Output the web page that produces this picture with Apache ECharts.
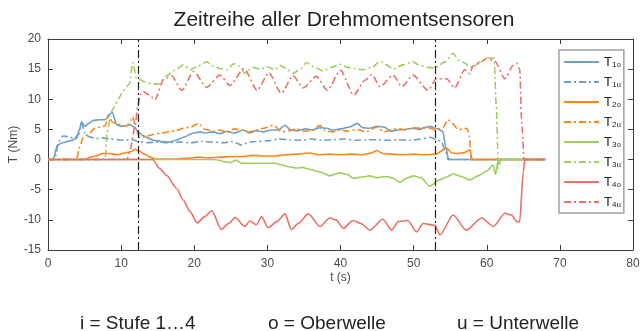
<!DOCTYPE html>
<html lang="de">
<head>
    <meta charset="utf-8">
    <title>Zeitreihe aller Drehmomentsensoren</title>
    <script src="https://cdn.jsdelivr.net/npm/echarts@6/dist/echarts.min.js"></script>
    <style type="text/css">
        html, body {
            width: 100%;
            height: 100%;
            margin: 0px;
            padding: 0px;
            background: #fff;
        }

        #main {
            width: 640px;
            height: 331px;
        }
    </style>
</head>
<body>
<div id="main"></div>
<script>
    var T1o = [[0,0],[0.7,0],[1.3,2.4],[2,2.8],[3,3.1],[3.9,3.5],[4.3,5],[4.6,6.3],[5,5.5],[5.6,6.0],[6.2,6.5],[7,6.6],[7.8,6.6],[8.4,7.5],[8.8,7.8],[9.4,5.8],[10,5.5],[10.6,5.6],[11.2,5.8],[11.8,5.4],[12.4,4.5],[13,4.0],[13.6,3.6],[14.4,3.2],[15.5,3.0],[16.5,2.9],[17.5,3.2],[18.5,3.7],[19.9,4.4],[20.8,4.6],[21.5,4.4],[22.5,4.6],[23.5,4.3],[24.5,4.7],[25.5,4.4],[26.7,4.9],[27.6,4.4],[28.5,4.8],[29.4,4.6],[30.5,4.9],[31.5,4.9],[32.4,5.7],[33.2,4.9],[34.2,4.8],[35.2,5.1],[36.2,4.9],[37.2,5.3],[38.1,5.2],[39,4.9],[40,5.1],[41.2,5.4],[42.3,6.0],[43,5.3],[44,5.2],[45,5.5],[46,5.4],[46.8,4.7],[47.8,4.9],[48.8,5.0],[49.8,5.2],[50.8,5.0],[51.5,5.3],[52.2,5.5],[53,5.2],[54,4.7],[54.4,2.0],[54.8,0],[68,0]];
    var T1u = [[0,0],[0.9,0],[1.5,3.0],[2,3.9],[2.8,3.8],[3.6,3.5],[4.2,4.2],[4.6,6.0],[5,4.5],[5.6,3.8],[6.5,3.5],[7.5,3.6],[8.5,3.4],[9.5,3.3],[10.5,3.2],[11.5,3.3],[12.3,3.0],[13.5,2.8],[15,2.9],[16.5,2.8],[18,2.9],[19.5,2.8],[21,3.0],[22.5,2.9],[24,2.8],[25.2,3.0],[26.5,2.4],[27.5,2.9],[28.5,3.0],[30,3.1],[31.5,3.4],[33,3.3],[34.5,3.2],[36,3.4],[37.5,3.2],[39,3.3],[40.5,3.4],[42,3.2],[43.5,3.3],[45,3.3],[46.5,3.2],[48,3.3],[49.5,3.2],[51,3.4],[52.2,3.7],[53.2,3.3],[53.8,3.0],[54.3,1.5],[54.7,0],[68,0]];
    var T2o = [[0,0],[5,0],[5.8,0.4],[6.5,0.6],[7.5,1.0],[8.5,1.0],[9.5,0.8],[10.5,1.1],[11.3,1.3],[11.9,1.7],[12.5,1.4],[13.2,0.9],[14,0.4],[14.6,0.1],[16,0.1],[17.5,0.1],[19,0.2],[20.5,0.4],[22,0.3],[23.5,0.4],[25,0.5],[26.5,0.5],[28,0.7],[29.5,0.6],[31,0.6],[32.5,0.8],[34,0.9],[35.8,1.1],[37,0.8],[38.5,0.9],[40,0.8],[41.5,0.9],[43,0.8],[44.2,1.1],[45,1.5],[45.8,1.0],[47,0.9],[48.5,0.8],[50,0.9],[51.5,0.8],[53,0.9],[54.5,1.9],[55.2,1.1],[56,1.0],[57,1.2],[57.7,1.6],[58,0],[68,0]];
    var T2u = [[0,0],[3.9,0],[4.3,2.0],[4.8,3.6],[5.5,4.2],[6.4,5.2],[7.2,5.4],[7.8,5.6],[8.3,7.1],[8.8,6.2],[9.5,5.9],[10.2,5.6],[10.8,5.6],[11.3,6.5],[11.6,7.1],[12,5.0],[12.6,3.6],[13.5,3.9],[14.5,4.2],[15.5,4.4],[16.5,4.6],[17.5,4.8],[18.5,5.2],[19.5,5.4],[20.6,6.0],[21.5,5.0],[22.5,4.7],[23.5,4.9],[24.5,4.5],[25.5,5.1],[26.5,4.9],[27.5,4.6],[28.5,4.9],[29.5,5.2],[30.8,5.7],[32,4.6],[33,4.8],[34,5.1],[35,4.7],[36,4.8],[37.2,5.7],[38,4.7],[39,4.6],[40,4.9],[41,4.7],[42.3,5.0],[43.5,4.6],[45,5.4],[46,4.6],[47,5.0],[48,5.1],[49,4.9],[50,5.3],[51,5.2],[52,5.3],[53,4.9],[54,5.3],[54.7,6.6],[55.3,6.0],[56,5.1],[56.7,5.0],[57.3,5.2],[57.6,4.0],[57.9,0],[68,0]];
    var T3o = [[0,0],[20,0],[22.6,0],[24.9,-0.5],[25.7,-0.1],[26.5,-0.6],[28.5,-0.6],[31,-0.6],[32,-0.9],[33,-1.2],[34,-1.4],[34.8,-1.3],[35.7,-1.6],[36.6,-1.9],[37.4,-2.1],[38.5,-2.7],[39.9,-2.2],[41,-2.5],[41.7,-3.1],[43,-2.9],[44,-2.7],[45,-3.0],[46.3,-2.8],[47.2,-3.1],[48.1,-3.8],[49,-3.1],[50,-2.7],[51,-3.0],[52.2,-4.4],[53.5,-3.4],[54.5,-2.9],[55.4,-2.4],[56.5,-2.8],[57.7,-3.4],[58.8,-2.7],[60,-1.9],[60.9,-0.9],[61.2,-2.4],[61.6,0],[68,0]];
    var T3u = [[0,0],[7.8,0],[8.1,4.5],[8.6,7.8],[9.1,8.8],[9.6,10.0],[10.1,11.0],[10.6,11.9],[11.1,12.5],[11.6,16.1],[12.1,13.5],[12.5,13.3],[13.2,12.9],[14.2,12.6],[15.1,12.5],[16.2,13.9],[17.3,14.8],[18.5,15.7],[19.5,14.9],[20.5,15.5],[21.7,16.2],[22.6,15.5],[23.5,15.1],[24.5,14.9],[25.4,15.9],[26.2,15.5],[26.9,14.3],[28,15.3],[29,15.0],[30,15.4],[31,14.9],[31.8,15.6],[32.7,15.0],[33.5,14.3],[34.5,15.0],[35.3,16.1],[36.5,15.3],[37.6,14.7],[38.8,15.3],[39.9,15.8],[41,15.3],[42,15.1],[43.1,14.9],[44.3,15.3],[45.4,16.3],[46.3,15.7],[47.2,15.0],[48.5,15.7],[49.9,16.2],[50.9,15.6],[51.8,15.3],[52.9,15.2],[54.3,16.2],[55.4,17.6],[56.3,16.4],[57,16.0],[57.7,15.3],[58.4,15.6],[59,16.2],[59.7,16.5],[60.4,16.9],[61.0,16.8],[61.3,9],[61.6,-1.5],[61.9,0],[68,0]];
    var T4o = [[0,0],[14.3,0],[15.3,-1.5],[16.2,-2.6],[17.6,-4.8],[18.5,-6.7],[19.4,-8.6],[20.4,-10.5],[21.4,-9.5],[22.4,-8.5],[23.7,-11.6],[24.7,-10.6],[25.6,-9.6],[26.9,-11.1],[27.6,-10.2],[28.5,-10.8],[29.2,-9.5],[30.1,-11.3],[31.3,-10.3],[32.4,-9.0],[33.3,-11.6],[34.2,-10.6],[35.6,-9.0],[37.2,-11.1],[38.5,-9.7],[39.4,-10.0],[40.4,-11.4],[41.7,-10.1],[42.8,-10.6],[44,-11.7],[45.8,-9.9],[47,-11.7],[47.9,-10.3],[49.2,-10.1],[50.4,-12.0],[51.3,-10.6],[52.9,-10.9],[53.6,-12.5],[55.4,-9.2],[57.2,-11.7],[59.3,-9.7],[60.9,-11.1],[62.5,-8.9],[63.4,-9.2],[64.1,-10.3],[64.5,-10.3],[65.0,-2],[65.2,0],[68,0]];
    var T4u = [[0,0],[10.8,0],[11.2,1.5],[11.9,5.5],[12.3,9.0],[12.6,10.7],[13,11.3],[13.9,10.7],[14.6,9.9],[15.8,13.2],[16.9,13.9],[18.3,11.5],[19.9,14.6],[21.7,12.0],[23.5,14.0],[24.9,12.3],[26.8,15.1],[28.6,11.5],[30.2,14.4],[31.9,11.0],[33.5,13.9],[34.9,11.9],[36.7,13.8],[38.2,11.5],[40,14.8],[41.8,10.7],[43.4,13.2],[44.3,14.1],[45.4,12.1],[47.2,14.0],[48.4,12.1],[49.9,14.0],[52,11.5],[53.1,13.4],[54.5,13.4],[55.6,11.9],[57,14.9],[57.7,14.2],[58.1,15.5],[59,16.0],[60,16.8],[61.1,16.3],[62.5,13.4],[63.6,15.6],[64.1,16.0],[64.5,15.0],[64.8,6],[65.1,0],[68,0]];

    var seriesNames = ['T1o', 'T1u', 'T2o', 'T2u', 'T3o', 'T3u', 'T4o', 'T4u'];
    var seriesData = [T1o, T1u, T2o, T2u, T3o, T3u, T4o, T4u];
    var stufenFarben = ['#6d9fc8', '#ff8516', '#9dce5e', '#ea7167'];
    var stufenGrenzen = [12.3, 52.9];   // Stufenwechsel (s)
    var fusszeile = ['i = Stufe 1…4', 'o = Oberwelle', 'u = Unterwelle'];

    var strichPunkt = [7, 3, 2, 3];
    var achsFarbe = '#3c3c3c';
    var textFarbe = '#4a4a4a';
    var schrift = 'Liberation Sans, Arial, sans-serif';

    var series = seriesNames.map(function (name, i) {
        var s = {
            name: name,
            type: 'line',
            data: seriesData[i],
            symbol: 'none',
            smooth: 0.25,
            smoothMonotone: 'x',
            lineStyle: {
                color: stufenFarben[Math.floor(i / 2)],
                width: 1.6,
                type: i % 2 === 0 ? 'solid' : strichPunkt
            },
            itemStyle: {color: stufenFarben[Math.floor(i / 2)]},
            animation: false
        };
        if (i === 0) {
            s.markLine = {
                silent: true,
                symbol: 'none',
                label: {show: false},
                lineStyle: {color: '#222', width: 1.2, type: [8, 3, 2, 3]},
                data: stufenGrenzen.map(function (t) { return {xAxis: t}; })
            };
        }
        return s;
    });

    var myChart = echarts.init(document.getElementById('main'));
    myChart.setOption({
        backgroundColor: '#fff',
        textStyle: {fontFamily: schrift},
        title: {
            text: 'Zeitreihe aller Drehmomentsensoren',
            left: 339,
            textAlign: 'center',
            top: 5,
            textStyle: {fontSize: 21, fontWeight: 'normal', color: '#222', fontFamily: schrift}
        },
        legend: {
            orient: 'vertical',
            left: 559,
            top: 50,
            width: 62,
            padding: [5, 3, 4, 4],
            itemGap: 6,
            itemWidth: 35,
            itemHeight: 14,
            borderColor: '#a0a0a0',
            borderWidth: 1.5,
            backgroundColor: '#fff',
            itemStyle: {opacity: 0},
            data: seriesNames,
            formatter: function (name) {
                return '{t|T}{s|' + name.slice(1) + '}';
            },
            textStyle: {
                rich: {
                    t: {fontSize: 13, color: '#222', lineHeight: 14, fontFamily: schrift},
                    s: {fontSize: 8, color: '#222', lineHeight: 10, verticalAlign: 'bottom', padding: [6, 0, 0, 0], fontFamily: schrift}
                }
            }
        },
        grid: {left: 48, right: 7, top: 39, bottom: 81, outerBoundsMode: 'none'},
        xAxis: [{
            type: 'value',
            min: 0, max: 80, interval: 10,
            name: 't (s)',
            nameLocation: 'middle',
            nameGap: 22,
            nameMoveOverlap: false,
            nameTextStyle: {fontSize: 12, color: textFarbe},
            axisLine: {onZero: false, lineStyle: {color: achsFarbe, width: 1}},
            axisTick: {inside: true, length: 5, lineStyle: {color: achsFarbe}},
            axisLabel: {fontSize: 12, color: textFarbe, margin: 8},
            splitLine: {show: false}
        }, {
            type: 'value',
            position: 'top',
            min: 0, max: 80, interval: 10,
            axisLine: {onZero: false, lineStyle: {color: achsFarbe, width: 1}},
            axisTick: {inside: true, length: 5, lineStyle: {color: achsFarbe}},
            axisLabel: {show: false},
            splitLine: {show: false}
        }],
        yAxis: [{
            type: 'value',
            min: -15, max: 20, interval: 5,
            name: 'T (Nm)',
            nameLocation: 'middle',
            nameGap: 28,
            nameMoveOverlap: false,
            nameTextStyle: {fontSize: 12, color: textFarbe},
            axisLine: {show: true, onZero: false, lineStyle: {color: achsFarbe, width: 1}},
            axisTick: {show: true, inside: true, length: 5, lineStyle: {color: achsFarbe}},
            axisLabel: {fontSize: 12, color: textFarbe, margin: 7},
            splitLine: {show: false}
        }, {
            type: 'value',
            position: 'right',
            min: -15, max: 20, interval: 5,
            axisLine: {show: true, onZero: false, lineStyle: {color: achsFarbe, width: 1}},
            axisTick: {show: true, inside: true, length: 5, lineStyle: {color: achsFarbe}},
            axisLabel: {show: false},
            splitLine: {show: false}
        }],
        graphic: [
            {type: 'text', left: 80, top: 314, style: {text: fusszeile[0], font: '19px ' + schrift, fill: '#222'}},
            {type: 'text', left: 268, top: 314, style: {text: fusszeile[1], font: '19px ' + schrift, fill: '#222'}},
            {type: 'text', left: 457, top: 314, style: {text: fusszeile[2], font: '19px ' + schrift, fill: '#222'}}
        ],
        series: series
    });
</script>
</body>
</html>
